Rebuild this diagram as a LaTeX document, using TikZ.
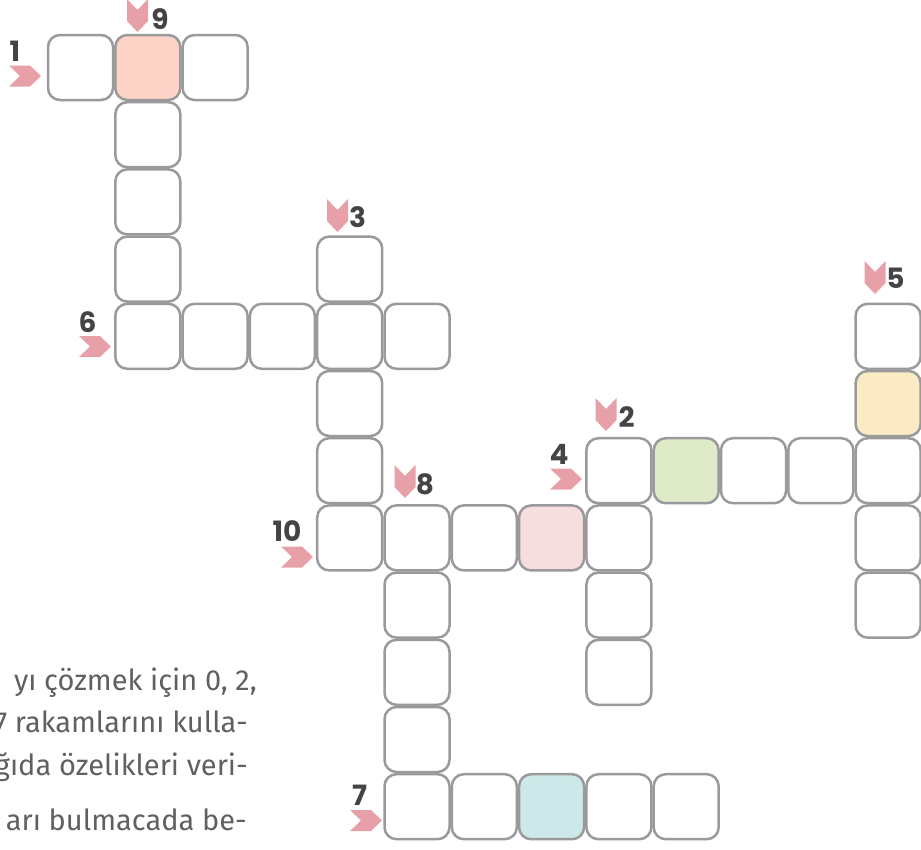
\documentclass[tikz,border=0pt]{standalone}
\usepackage{fontspec}
\setmainfont{Fira Sans}
\newfontfamily\numfont{Poppins}
\definecolor{cellline}{RGB}{154,154,156}
\definecolor{tagpink}{RGB}{232,160,168}
\definecolor{numgray}{RGB}{68,68,70}
\definecolor{txtgray}{RGB}{96,96,98}
\definecolor{salmon}{RGB}{253,210,199}
\definecolor{leaf}{RGB}{222,234,200}
\definecolor{cream}{RGB}{251,235,197}
\definecolor{blush}{RGB}{246,222,223}
\definecolor{mint}{RGB}{205,232,232}

\begin{document}
\begin{tikzpicture}[x=1pt, y=-1pt, cell/.style={draw=cellline, line width=2.5pt, rounded corners=12pt, minimum size=65pt, inner sep=0pt}, num/.style={font=\numfont\bfseries\fontsize{28}{28}\selectfont, text=numgray, inner sep=0pt}, txtline/.style={font=\fontsize{29}{29}\selectfont, text=txtgray, inner sep=0pt, anchor=base east}]
	\useasboundingbox (0,0) rectangle (921,849);
	\clip (0,0) rectangle (921,849);
	\foreach \i/\j/\c in {0/0/white, 1/0/salmon, 2/0/white, 1/1/white, 1/2/white, 1/3/white, 1/4/white, 2/4/white, 3/4/white, 4/4/white, 5/4/white, 4/3/white, 4/5/white, 4/6/white, 4/7/white, 5/7/white, 6/7/white, 7/7/blush, 8/7/white, 5/8/white, 5/9/white, 5/10/white, 5/11/white, 6/11/white, 7/11/mint, 8/11/white, 9/11/white, 8/6/white, 8/8/white, 8/9/white, 9/6/leaf, 10/6/white, 11/6/white, 12/6/white, 12/4/white, 12/5/cream, 12/7/white, 12/8/white}
		{\node[cell, fill=\c] (c\i-\j) at ({80.5+67.3*\i},{67.5+67.2*\j}) {};}
	\foreach \x/\y in {41/76, 111/346.5, 582/479, 313/557, 382/820.5}
		{\fill[tagpink] (\x,\y) -- ++(-11,-10.5) -- ++(-21,0) -- ++(11,10.5) -- ++(-11,10.5) -- ++(21,0) -- cycle;}
	\foreach \x/\y in {137.5/32, 337.5/232, 875/294, 606/431, 405/498}
		{\fill[tagpink] (\x,\y) -- ++(-10.5,-11) -- ++(0,-22) -- ++(10.5,11) -- ++(10.5,-11) -- ++(0,22) -- cycle;}
	\foreach \n/\x/\y in {1/15/51, 9/160/19, 3/357.5/217.5, 6/87.5/322.5, 5/895.5/278, 2/626.5/417.5, 4/559/454, 8/425/484.5, 10/287/531, 7/359.5/795}
		{\node[num] (n\n) at (\x,\y) {\n};}
	\node[txtline] (t1) at (257,690) {yı çözmek için 0, 2,};
	\node[txtline] (t2) at (248,732) {7 rakamlarını kulla-};
	\node[txtline] (t3) at (248,775) {ğıda özelikleri veri-};
	\node[txtline] (t4) at (247,830) {arı bulmacada be-};
\end{tikzpicture}
\end{document}
